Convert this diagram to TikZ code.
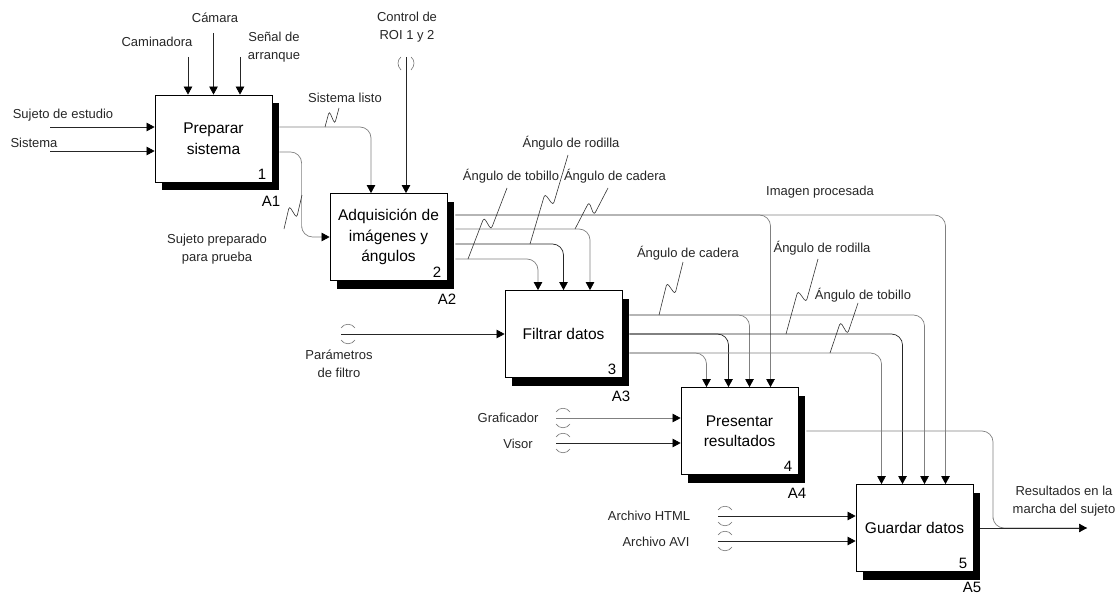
\documentclass[tikz,border=0pt]{standalone}
\usepackage{fontspec}
\setmainfont{Liberation Sans}
\usetikzlibrary{arrows.meta,calc,shadows}

\tikzset{
  box/.style={draw, line width=0.8pt, fill=white, minimum width=117pt, minimum height=87pt,
    align=center, inner sep=2pt, font=\fontsize{15.5}{20.5}\selectfont,
    drop shadow={shadow xshift=7pt, shadow yshift=-8pt, fill=black, opacity=1}},
  num/.style={anchor=south east, inner sep=0pt, font=\fontsize{15}{15}\selectfont},
  aref/.style={anchor=north east, inner sep=0pt, font=\fontsize{15}{15}\selectfont},
  lab/.style={align=center, inner sep=0pt, text=black!85, font=\fontsize{13}{18.5}\selectfont},
  flow/.style={draw=black!85, line width=0.7pt, rounded corners=11pt,
    -{Triangle[length=8pt,width=8.5pt,color=black]}},
  flowg/.style={flow, draw=black!50},
  link/.style={draw=black!50, line width=0.7pt, rounded corners=11pt},
  squigline/.style={draw=black!80, line width=0.6pt, rounded corners=3pt},
  tunnel/.style={draw=black!55, line width=0.6pt}
}

% squiggle from #1 (lower end) to #2 (upper end)
\newcommand{\squig}[2]{%
  \coordinate (sqm) at ($(#1)!.5!(#2)$);
  \coordinate (sqa) at ($(sqm)!3.5pt!(#2)$);
  \coordinate (sqp) at ($(sqa)!6pt!90:(#2)$);
  \coordinate (sqb) at ($(sqm)!3.5pt!(#1)$);
  \coordinate (sqt) at ($(sqb)!6pt!-90:(#2)$);
  \draw[squigline] (#1) -- (sqp) -- (sqt) -- (#2);}

% tunnel marks round a horizontal line at (#1,#2)
\newcommand{\htunnel}[2]{%
  \draw[tunnel] (#1-7,#2-6) .. controls (#1-4,#2-11) and (#1+4,#2-11) .. (#1+7,#2-6);
  \draw[tunnel] (#1-7,#2+6) .. controls (#1-4,#2+11) and (#1+4,#2+11) .. (#1+7,#2+6);}

\begin{document}
\begin{tikzpicture}[x=1pt,y=-1pt]
\useasboundingbox (0,0) rectangle (1118,594);

% activities
\node[box] (A1) at (213.5,138.5) {Preparar\\sistema};
\node[num] (n1) at ([xshift=-6pt,yshift=3pt]A1.south east) {1};
\node[aref] (a1) at ([xshift=8pt,yshift=-14pt]A1.south east) {A1};

\node[box] (A2) at (388.5,237) {Adquisición de\\imágenes y\\ángulos};
\node[num] (n2) at ([xshift=-6pt,yshift=3pt]A2.south east) {2};
\node[aref] (a2) at ([xshift=9pt,yshift=-13pt]A2.south east) {A2};

\node[box] (A3) at (563.5,334) {Filtrar datos};
\node[num] (n3) at ([xshift=-6pt,yshift=3pt]A3.south east) {3};
\node[aref] (a3) at ([xshift=8pt,yshift=-13pt]A3.south east) {A3};

\node[box] (A4) at (739.5,431) {Presentar\\resultados};
\node[num] (n4) at ([xshift=-6pt,yshift=3pt]A4.south east) {4};
\node[aref] (a4) at ([xshift=8pt,yshift=-13pt]A4.south east) {A4};

\node[box] (A5) at (914.5,528) {Guardar datos};
\node[num] (n5) at ([xshift=-6pt,yshift=3pt]A5.south east) {5};
\node[aref] (a5) at ([xshift=8pt,yshift=-10pt]A5.south east) {A5};

% free ends
\coordinate (caminadora) at (188,57);
\coordinate (camara) at (213.5,33);
\coordinate (senal) at (240,57);
\coordinate (sujeto) at (50,127);
\coordinate (sistema) at (50,151);
\coordinate (roi) at (406,57);
\coordinate (param) at (341,334);
\coordinate (graf) at (556,418);
\coordinate (visor) at (556,443);
\coordinate (html) at (718,516);
\coordinate (avi) at (718,541);
\coordinate (res) at (1087,528);

% A1
\draw[flow] (caminadora) -- (caminadora |- A1.north);
\draw[flow] (camara) -- (A1.north);
\draw[flow] (senal) -- (senal |- A1.north);
\draw[flow] (sujeto) -- (sujeto -| A1.west);
\draw[flow] (sistema) -- (sistema -| A1.west);
\draw[flowg] ([xshift=7pt,yshift=11.5pt]A1.east) -| ([xshift=-17.5pt]A2.north);
\draw[flowg] ([xshift=7pt,yshift=-13.5pt]A1.east) -| ([xshift=-28pt,yshift=20pt]A2.west) |- (A2.west);

% A2
\draw[flow] (roi) -- (roi |- A2.north);
\draw[flowg] ([xshift=8pt,yshift=22pt]A2.east) -| ([xshift=31pt]A4.north);
\draw[flowg] ([xshift=8pt,yshift=22pt]A2.east) -| ([xshift=31pt]A5.north);
\draw[flowg] ([xshift=8pt,yshift=8pt]A2.east) -| ([xshift=26.5pt]A3.north);
\draw[flow] ([xshift=8pt,yshift=-7pt]A2.east) -| (A3.north);
\draw[flowg] ([xshift=8pt,yshift=-22pt]A2.east) -| ([xshift=-25.5pt]A3.north);

% A3
\draw[flow] (param) -- (A3.west);
\draw[flowg] ([xshift=7pt,yshift=19pt]A3.east) -| ([xshift=10pt]A4.north);
\draw[flowg] ([xshift=7pt,yshift=19pt]A3.east) -| ([xshift=10pt]A5.north);
\draw[flow] ([xshift=7pt]A3.east) -| ([xshift=-11pt]A4.north);
\draw[flow] ([xshift=7pt]A3.east) -| ([xshift=-12pt]A5.north);
\draw[flowg] ([xshift=7pt,yshift=-19pt]A3.east) -| ([xshift=-33pt]A4.north);
\draw[flowg] ([xshift=7pt,yshift=-19pt]A3.east) -| ([xshift=-33pt]A5.north);

% A4
\draw[flowg] (graf) -- (graf -| A4.west);
\draw[flow] (visor) -- (visor -| A4.west);
\draw[link] ([xshift=8pt]A4.east) -| ([xshift=-94pt,yshift=20pt]res) |- (res);

% A5
\draw[flow] (html) -- (html -| A5.west);
\draw[flow] (avi) -- (avi -| A5.west);
\draw[flow] ([xshift=7pt]A5.east) -- (res);

% tunnels
\draw[tunnel] (401,57) .. controls (397,60) and (397,66) .. (401,70);
\draw[tunnel] (411,57) .. controls (415,60) and (415,66) .. (411,70);
\htunnel{348}{334}
\htunnel{563}{418}
\htunnel{563}{443}
\htunnel{725}{516}
\htunnel{725}{541}

% squiggles
\coordinate (s1a) at (325,127); \coordinate (s1b) at (339,108);
\squig{s1a}{s1b}
\coordinate (s2a) at (284,229); \coordinate (s2b) at (302,195);
\squig{s2a}{s2b}
\coordinate (s3a) at (468,259); \coordinate (s3b) at (507,188);
\squig{s3a}{s3b}
\coordinate (s4a) at (530,244); \coordinate (s4b) at (568,155);
\squig{s4a}{s4b}
\coordinate (s5a) at (575,229); \coordinate (s5b) at (608,188);
\squig{s5a}{s5b}
\coordinate (s6a) at (659,315); \coordinate (s6b) at (683,262);
\squig{s6a}{s6b}
\coordinate (s7a) at (786,334); \coordinate (s7b) at (818,259);
\squig{s7a}{s7b}
\coordinate (s8a) at (830,353); \coordinate (s8b) at (858,303);
\squig{s8a}{s8b}

% labels
\node[lab] (lcam) at (215,18) {Cámara};
\node[lab] (lcamin) at (157,42) {Caminadora};
\node[lab] (lsenal) at (274,47) {Señal de\\arranque};
\node[lab] (lroi) at (407,27) {Control de\\ROI 1 y 2};
\node[lab] (lsuj) at (63,115) {Sujeto de estudio};
\node[lab] (lsis) at (34,143) {Sistema};
\node[lab] (llisto) at (345,98) {Sistema listo};
\node[lab] (lprep) at (217,249) {Sujeto preparado\\para prueba};
\node[lab] (lrod2) at (571,143) {Ángulo de rodilla};
\node[lab] (ltob2) at (511,176) {Ángulo de tobillo};
\node[lab] (lcad2) at (615,176) {Ángulo de cadera};
\node[lab] (limg) at (820,192) {Imagen procesada};
\node[lab] (lcad3) at (688,253) {Ángulo de cadera};
\node[lab] (lrod3) at (822,248) {Ángulo de rodilla};
\node[lab] (ltob3) at (863,295) {Ángulo de tobillo};
\node[lab] (lparam) at (339,364) {Parámetros\\de filtro};
\node[lab] (lgraf) at (508,418) {Graficador};
\node[lab] (lvisor) at (518,444) {Visor};
\node[lab] (lhtml) at (649,516) {Archivo HTML};
\node[lab] (lavi) at (656,542) {Archivo AVI};
\node[lab] (lres) at (1064,501) {Resultados en la\\marcha del sujeto};
\end{tikzpicture}
\end{document}
